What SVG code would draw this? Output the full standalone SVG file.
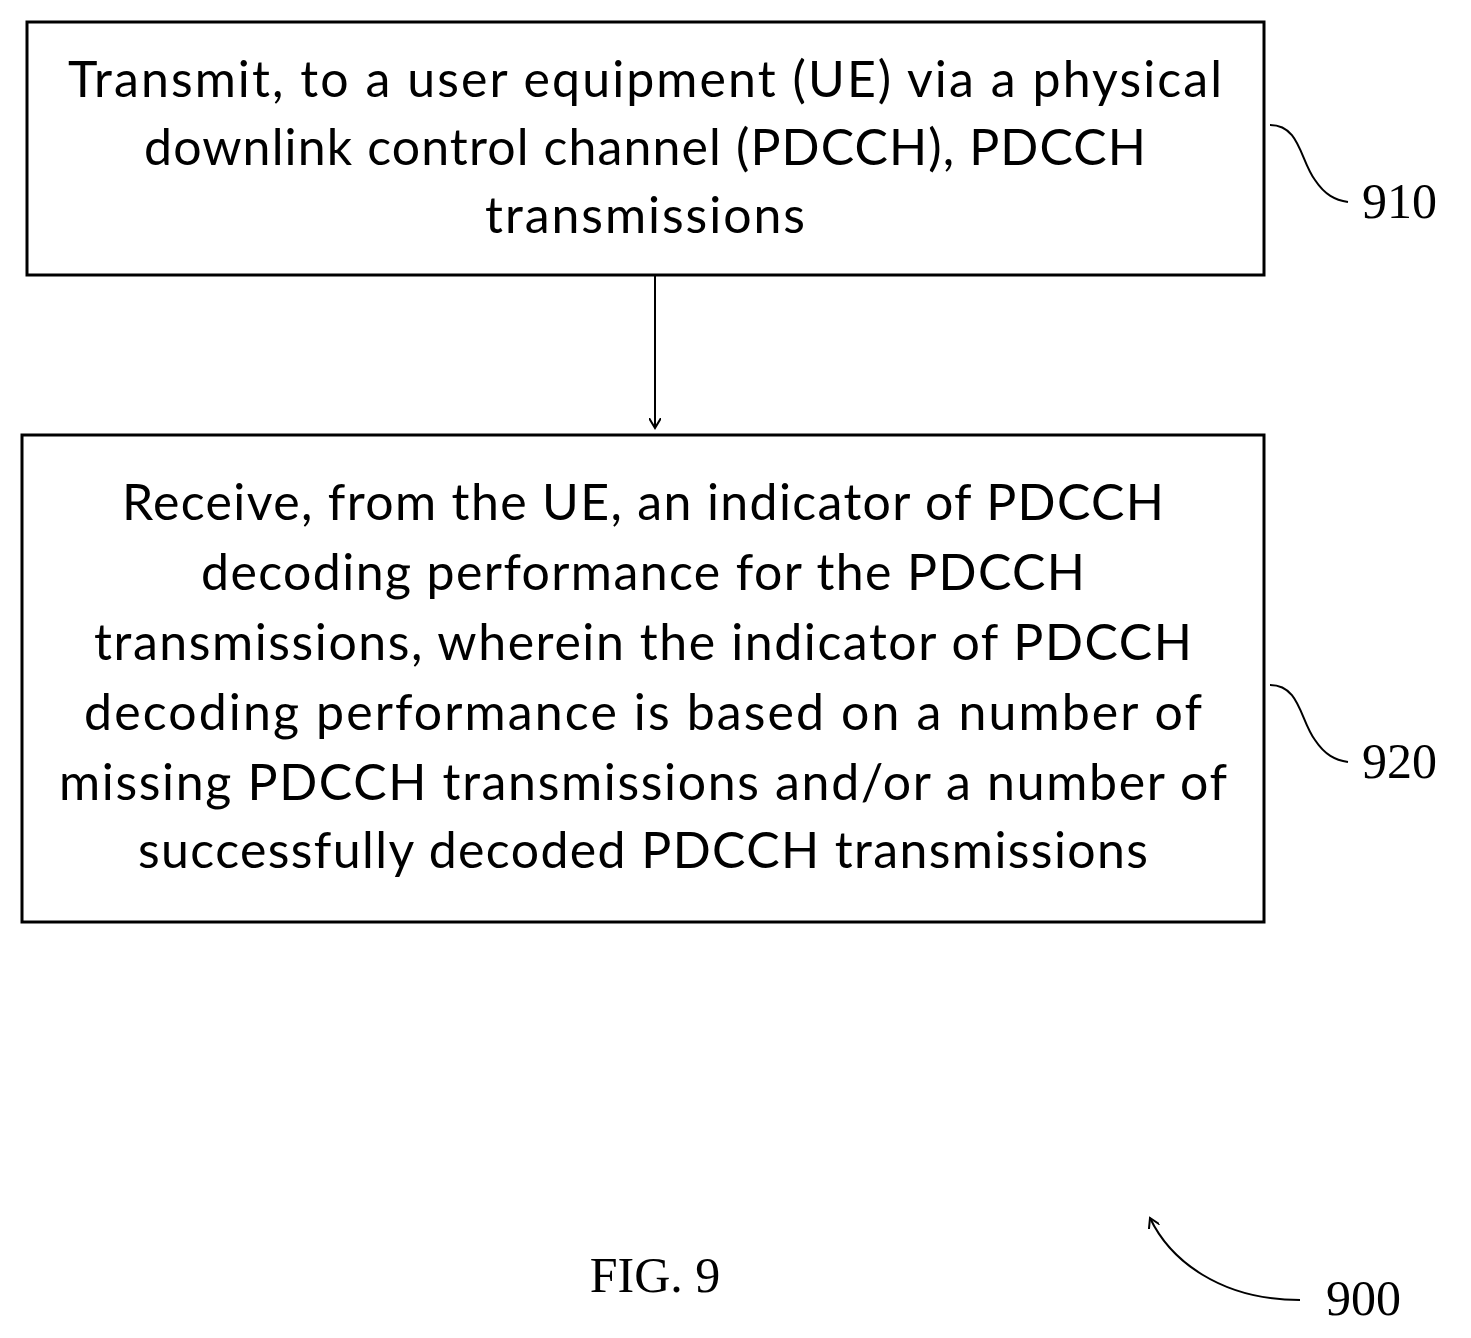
<svg xmlns="http://www.w3.org/2000/svg" width="1471" height="1338" viewBox="0 0 1471 1338">
<style>
.box{fill:#fff;stroke:#000;stroke-width:3}
.t{font-family:Lato,"Open Sans",sans-serif;font-size:50px;text-anchor:middle;fill:#000}
.r{font-family:"Liberation Serif",serif;font-size:50px;fill:#000}
.c{fill:none;stroke:#000;stroke-width:2}
</style>
<defs><marker id="a" markerWidth="12" markerHeight="12" refX="10" refY="6" orient="auto" markerUnits="userSpaceOnUse"><path d="M0,0 L10,6 L0,12" fill="none" stroke="#000" stroke-width="2"/></marker></defs>
<rect width="1471" height="1338" fill="#fff"/>
<g id="n910">
<rect class="box" x="27" y="22" width="1237" height="253"/>
<text class="t" x="645" y="97" textLength="1154">Transmit, to a user equipment (UE) via a physical</text>
<text class="t" x="645" y="165" textLength="1002">downlink control channel (PDCCH), PDCCH</text>
<text class="t" x="645" y="233" textLength="320">transmissions</text>
</g>
<g id="n920">
<rect class="box" x="22" y="435" width="1242" height="487"/>
<text class="t" x="643" y="520" textLength="1042">Receive, from the UE, an indicator of PDCCH</text>
<text class="t" x="643" y="590" textLength="884">decoding performance for the PDCCH</text>
<text class="t" x="643" y="660" textLength="1098">transmissions, wherein the indicator of PDCCH</text>
<text class="t" x="643" y="730" textLength="1118">decoding performance is based on a number of</text>
<text class="t" x="643" y="800" textLength="1168">missing PDCCH transmissions and/or a number of</text>
<text class="t" x="643" y="868" textLength="1010">successfully decoded PDCCH transmissions</text>
</g>
<g id="connectors">
<path class="c" d="M655,275 L655,428" marker-end="url(#a)"/>
<path class="c" d="M1270,125 C1300,125 1300,160 1315,180 C1325,195 1335,200 1348,202"/>
<path class="c" d="M1270,685 C1300,685 1300,720 1315,740 C1325,755 1335,760 1348,762"/>
<path class="c" d="M1300,1300 C1220,1300 1170,1260 1150,1218" marker-end="url(#a)"/>
</g>
<g id="labels">
<text class="r" x="1362" y="218">910</text>
<text class="r" x="1362" y="778">920</text>
<text class="r" x="1326" y="1315">900</text>
<text class="r" x="655" y="1292" font-size="72" text-anchor="middle">FIG. 9</text>
</g>
</svg>
